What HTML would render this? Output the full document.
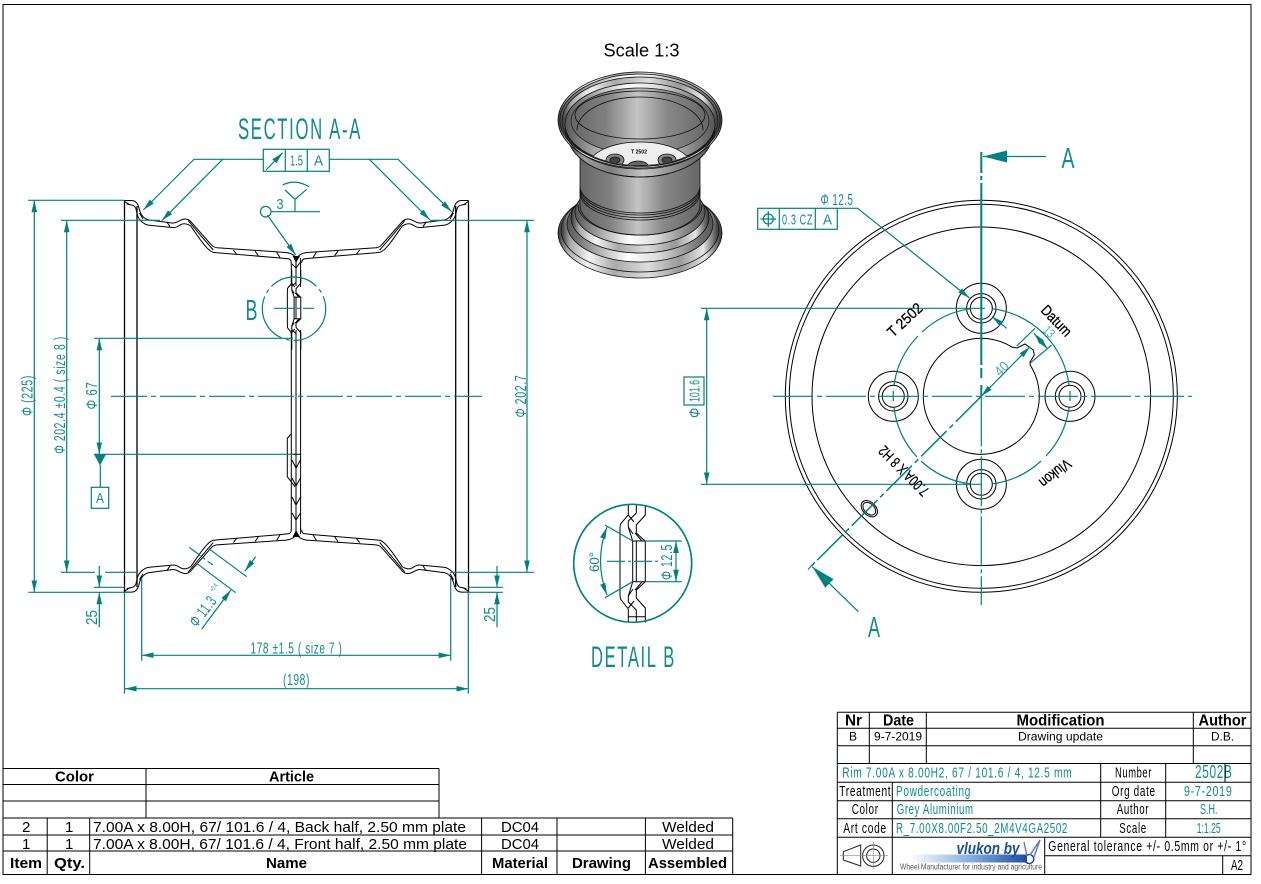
<!DOCTYPE html>
<html><head><meta charset="utf-8"><title>Rim drawing</title>
<style>
html,body{margin:0;padding:0;background:#fff}
svg{display:block}
text{font-family:"Liberation Sans",sans-serif}
.t{fill:#0f8a8f}
.k{fill:#000}
.s{letter-spacing:1px}
.h{letter-spacing:3px}
.l{stroke:#008080;stroke-width:1.2;fill:none}
.b{stroke:#000;stroke-width:1;fill:none}
.f{stroke:#000;stroke-width:1.3;fill:none}
i{font-style:italic}
</style></head><body>
<svg width="1261" height="884" viewBox="0 0 1261 884" xmlns="http://www.w3.org/2000/svg">
<defs>
<marker id="a" markerWidth="12" markerHeight="6" refX="12" refY="3" orient="auto-start-reverse" markerUnits="userSpaceOnUse"><path d="M0 .2L12 3L0 5.800z" fill="#008080"/></marker>
<marker id="A" markerWidth="24" markerHeight="12" refX="24" refY="6" orient="auto-start-reverse" markerUnits="userSpaceOnUse"><path d="M0 0L24 6L0 12z" fill="#008080"/></marker>
<linearGradient id="g1"><stop offset="0" stop-color="#333"/><stop offset=".06" stop-color="#aaa"/><stop offset=".18" stop-color="#f4f4f4"/><stop offset=".34" stop-color="#aaa"/><stop offset=".55" stop-color="#ddd"/><stop offset=".75" stop-color="#999"/><stop offset=".9" stop-color="#e6e6e6"/><stop offset="1" stop-color="#333"/></linearGradient>
<linearGradient id="g2"><stop offset="0" stop-color="#555"/><stop offset=".12" stop-color="#9a9a9a"/><stop offset=".3" stop-color="#808080"/><stop offset=".52" stop-color="#c5c5c5"/><stop offset=".75" stop-color="#888"/><stop offset="1" stop-color="#555"/></linearGradient>
<linearGradient id="g3"><stop offset="0" stop-color="#555"/><stop offset=".2" stop-color="#aaa"/><stop offset=".42" stop-color="#fff"/><stop offset=".62" stop-color="#ddd"/><stop offset=".85" stop-color="#888"/><stop offset="1" stop-color="#555"/></linearGradient>
<linearGradient id="g4"><stop offset="0" stop-color="#666"/><stop offset=".25" stop-color="#808080"/><stop offset=".48" stop-color="#c4c4c4"/><stop offset=".7" stop-color="#888"/><stop offset="1" stop-color="#666"/></linearGradient>
<linearGradient id="bar"><stop offset="0" stop-color="#fff"/><stop offset=".5" stop-color="#8fb0dd"/><stop offset="1" stop-color="#1a4f9e"/></linearGradient>
<clipPath id="inner"><ellipse cx="640" cy="124" rx="75" ry="41"/></clipPath>
<g id="q">
<path class="b" d="M124.500 200.500H131.500C136 200.500 138 204 139 208C140 213 143 219 149 220L172 223C177 224 180 219 185 219C188 219 190 220 192 223L211 244.500C213 247 215 247.500 217 247.700L286 252.500C290 253 294 254 296 258"/>
<path class="b" d="M126.700 204L132.700 205.300C135 206 136 208 136.500 211C137 215 138 218 141 221C143 223 146 225 149.300 225.300L172 227.500C177 228 179 225.500 181 224.500C184 223 188 224 190.700 226L200 239.300C205 246 209 251 213 252.200L217 252.700L280 258L288 258.800C290 259 291.300 260 291.300 263"/>
<path class="b" d="M188.300 220.700L201.700 236.700L213.300 250"/>
<path class="b" d="M125 201.700L130 205M166.700 221.700L170 226.700M233.300 250L236.700 254.300M255 251L258.300 255.700M276.700 252.300L280 257.700M139.500 213L143 219"/>
</g>
<g id="joggle">
<path class="b" vector-effect="non-scaling-stroke" d="M628.300 490V515L620.500 524C620 526 620 528 620 531V592C620 595 620 597 620.500 599L628.300 609V640"/>
<path class="b" vector-effect="non-scaling-stroke" d="M636.300 490V513L628.300 521V527L632.700 541M632.700 582L628.300 596V602L636.300 610V640"/>
<path class="b" vector-effect="non-scaling-stroke" d="M645.300 490V515L636.300 525V533L645.300 541.300M645.300 581.700L636.300 590V598L645.300 608V640"/>
<path class="b" vector-effect="non-scaling-stroke" d="M632.700 541H645.300V581.700H632.700ZM636.300 541V581.700"/>
<path class="b" vector-effect="non-scaling-stroke" d="M628.300 515L634 522M628.300 527L633 534M635 533L642 541M635 590L642 582M628.300 596L633 589M628.300 608L634 601"/>
</g>
</defs>
<rect width="1261" height="884" fill="#fff"/>
<rect x="3" y="4.500" width="1248" height="870" fill="none" stroke="#000" stroke-width="1"/>

<!-- section -->
<use href="#q"/>
<use href="#q" transform="translate(593 0) scale(-1 1)"/>
<use href="#q" transform="translate(0 792.600) scale(1 -1)"/>
<use href="#q" transform="translate(593 792.600) scale(-1 -1)"/>
<path class="f" d="M124.500 200.500V592.300M137 206V587M455.700 206V587M468.500 200.500V592.300"/>
<path class="b" stroke-width="1.2" d="M291.300 263V286M291.300 330V530M296 258V286M296 330V534M300.600 258V287M300.600 330V534"/>
<path d="M292.700 256H300L296 263z" fill="#000"/><path d="M292.700 537H300L296 530z" fill="#000"/>
<use href="#joggle" transform="translate(296 308) scale(.53) translate(-636.300 -561.500)"/>
<path class="b" d="M291 434L287.300 438.300V476.700L295 486.700M291.300 454.300H300.500M292 460L296 468L300.500 460M292 478L296 486L300.500 478M292 497L296 505L300.500 497M292 513L296 520L300.500 513M292 264L296 268L300.500 262"/>

<!-- top FCF + leaders -->
<rect class="l" x="263.300" y="149.300" width="66" height="22"/>
<path class="l" d="M285.300 149.300V171.300M307.300 149.300V171.300"/>
<path class="l" d="M266 170L282.700 152.700" marker-end="url(#a)"/>
<text class="t" x="290" y="165.500" font-size="15" textLength="13" lengthAdjust="spacingAndGlyphs">1.5</text>
<text class="t" x="314" y="165.500" font-size="15" textLength="9" lengthAdjust="spacingAndGlyphs">A</text>
<path class="l" d="M263.300 159.300H194L143.300 210" marker-end="url(#a)"/>
<path class="l" d="M222.700 159.300L161.700 220.700" marker-end="url(#a)"/>
<path class="l" d="M329.300 159.300H398L451.700 211.700" marker-end="url(#a)"/>
<path class="l" d="M369.300 159.300L430 220" marker-end="url(#a)"/>
<text class="t h" x="238" y="139" font-size="30" textLength="124" lengthAdjust="spacingAndGlyphs">SECTION A-A</text>
<!-- weld -->
<circle class="l" cx="265.700" cy="211.700" r="5.300"/>
<path class="l" d="M271 211.700H320M295 211.700V199.300L285 190M295 199.300L306.700 189.300M282.700 185Q295 178.500 309 186.700"/>
<path class="l" d="M267.300 215L295.700 255" marker-end="url(#a)"/>
<text class="t" x="276.500" y="209" font-size="15" textLength="7" lengthAdjust="spacingAndGlyphs">3</text>
<!-- B circle -->
<circle class="l" cx="294" cy="308.700" r="31.700" stroke-dasharray="50 4 4 4" stroke-width="1.300"/>
<path class="l" d="M274 308.300H314" stroke-dasharray="20 3 3 3"/>
<text class="t" x="245.500" y="320" font-size="29" textLength="12" lengthAdjust="spacingAndGlyphs">B</text>
<!-- left dims -->
<path class="l" d="M28 200.300H124.500M28.300 592.300H124.500M61 220.300H160M61 572.300H95M105 572.300H137M94 338.300H293M94 587.300H124.500M94 454.300H293"/>
<path class="l" d="M34.300 200.300V592.300" marker-start="url(#a)" marker-end="url(#a)"/>
<path class="l" d="M66.700 220.300V572.300" marker-start="url(#a)" marker-end="url(#a)"/>
<path class="l" d="M99.300 338.300V454.300" marker-start="url(#a)" marker-end="url(#a)"/>
<path d="M94 454.300H106L100 465.500z" fill="#008080"/>
<path class="l" d="M100.300 465V487.300"/>
<rect class="l" x="91.300" y="487.300" width="17.400" height="21"/>
<text class="t" x="96" y="503" font-size="15" textLength="8" lengthAdjust="spacingAndGlyphs">A</text>
<path class="l" d="M99.300 566V587.300" marker-end="url(#a)"/>
<path class="l" d="M99.300 627.300V592.300" marker-end="url(#a)"/>
<text class="t s" transform="translate(32.500 416) rotate(-90)" font-size="16" textLength="41" lengthAdjust="spacingAndGlyphs"><tspan font-style="italic">Φ</tspan> (225)</text>
<text class="t s" transform="translate(65 454) rotate(-90)" font-size="16" textLength="118" lengthAdjust="spacingAndGlyphs"><tspan font-style="italic">Φ</tspan> 202.4 ±0.4 ( size 8 )</text>
<text class="t s" transform="translate(97 409.500) rotate(-90)" font-size="16" textLength="28" lengthAdjust="spacingAndGlyphs"><tspan font-style="italic">Φ</tspan> 67</text>
<text class="t" transform="translate(97 625) rotate(-90)" font-size="16" textLength="15" lengthAdjust="spacingAndGlyphs">25</text>
<!-- right dims -->
<path class="l" d="M430 220.300H534M450 572.300H534M468.500 587.300H503M468.500 592.300H503"/>
<path class="l" d="M527 220.300V572.300" marker-start="url(#a)" marker-end="url(#a)"/>
<path class="l" d="M497 566V587.300" marker-end="url(#a)"/>
<path class="l" d="M497 627.300V592.300" marker-end="url(#a)"/>
<text class="t s" transform="translate(526 417.500) rotate(-90)" font-size="16" textLength="43" lengthAdjust="spacingAndGlyphs"><tspan font-style="italic">Φ</tspan> 202.7</text>
<text class="t" transform="translate(495 622) rotate(-90)" font-size="16" textLength="15" lengthAdjust="spacingAndGlyphs">25</text>
<!-- centerline -->
<path class="l" d="M111 396.300H482" stroke-dasharray="36 4 5 4"/>
<!-- bottom dims -->
<path class="l" d="M141.700 578V660.700M450.700 578V660.700M124.500 592V693.700M468.300 592V693.700"/>
<path class="l" d="M141.700 655.300H450.700" marker-start="url(#a)" marker-end="url(#a)"/>
<path class="l" d="M124.500 688.700H468.300" marker-start="url(#a)" marker-end="url(#a)"/>
<text class="t s" x="250.500" y="653.300" font-size="16" textLength="92" lengthAdjust="spacingAndGlyphs">178 ±1.5 ( size 7 )</text>
<text class="t s" x="283" y="685" font-size="16" textLength="27" lengthAdjust="spacingAndGlyphs">(198)</text>
<!-- dia 11.3 -->
<path class="l" d="M208.300 548.300L246.700 576.700M196.700 563.300L235.700 592.700"/>
<path class="l" d="M189.300 547.300L212.700 565" stroke-dasharray="14 3 3 3"/>
<path class="l" d="M255.700 556.700L244.900 571.200" marker-end="url(#a)"/>
<path class="l" d="M201.700 629L230.900 590" marker-end="url(#a)"/>
<text class="t s" transform="translate(197 628) rotate(-53)" font-size="16" textLength="34" lengthAdjust="spacingAndGlyphs"><tspan font-style="italic">Φ</tspan> 11.3</text>
<text class="t" transform="translate(213 592) rotate(-53)" font-size="7" textLength="8" lengthAdjust="spacingAndGlyphs">+0.4</text>

<!-- 3D rim -->
<text class="k" x="603.500" y="56.500" font-size="18" textLength="76" lengthAdjust="spacingAndGlyphs">Scale 1:3</text>
<g stroke="#111" stroke-width=".8">
<ellipse cx="640" cy="233" rx="82" ry="45" fill="url(#g1)"/>
<ellipse cx="640" cy="230" rx="79" ry="42" fill="url(#g1)"/>
<ellipse cx="640" cy="224" rx="73" ry="38" fill="url(#g3)"/>
<ellipse cx="640" cy="218" rx="69" ry="35" fill="url(#g1)"/>
<ellipse cx="640" cy="212" rx="65" ry="33" fill="url(#g3)"/>
<path d="M580 130H700V205A60 30 0 0 1 580 205Z" fill="url(#g4)"/>
<path d="M580 186A60 27 0 0 0 700 186M580 188A60 27 0 0 0 700 188M580 190.500A60 27 0 0 0 700 190.500M580 193A60 27 0 0 0 700 193M578 205A62 30 0 0 0 702 205" fill="none"/>
<ellipse cx="640" cy="135" rx="72" ry="42" fill="url(#g2)"/>
<path d="M568 135A72 42 0 0 0 712 135" fill="none"/>
<ellipse cx="640" cy="120" rx="82" ry="48" fill="url(#g1)"/>
<ellipse cx="640" cy="120" rx="80" ry="46" fill="url(#g3)"/>
<ellipse cx="640" cy="121" rx="78" ry="44" fill="url(#g1)"/>
<ellipse cx="640" cy="124" rx="75" ry="41" fill="url(#g3)"/>
<g clip-path="url(#inner)">
<ellipse cx="640" cy="121" rx="69" ry="33" fill="url(#g4)" stroke="#222"/>
<ellipse cx="640" cy="115" rx="65" ry="24" fill="none"/>
<path d="M577 130A63 33 0 0 1 703 130" fill="none"/>
<ellipse cx="640" cy="167" rx="52" ry="25" fill="#eee"/>
<ellipse cx="615" cy="160" rx="9" ry="6" fill="#888"/><ellipse cx="615" cy="160" rx="5" ry="3" fill="#444"/>
<ellipse cx="667" cy="160" rx="9" ry="6" fill="#888"/><ellipse cx="667" cy="160" rx="5" ry="3" fill="#444"/>
<ellipse cx="638" cy="166" rx="10" ry="5" fill="#666"/>
</g>
<path d="M565 128A75 41 0 0 0 715 128M566 132A75 41 0 0 0 714 132" fill="none"/>
</g>
<text x="631" y="153.500" font-size="5" font-weight="bold" fill="#000" textLength="16" lengthAdjust="spacingAndGlyphs">T 2502</text>

<!-- detail B -->
<circle cx="632.700" cy="563.300" r="59" fill="none" stroke="#008080" stroke-width="1.500"/>
<use href="#joggle"/>
<path fill="#fff" d="M620 622.500H650V640H620ZM620 480H650V505H620Z"/>
<circle cx="632.700" cy="563.300" r="59" fill="none" stroke="#008080" stroke-width="1.500"/>
<path class="b" d="M628.300 616.700H645.300"/>
<path class="l" d="M607 561.300H660" stroke-dasharray="18 3 3 3" stroke-width="1.300"/>
<path class="l" d="M645.300 541H681.700M645.300 581.700H681.700"/>
<path class="l" d="M676 541V581.700" marker-start="url(#a)" marker-end="url(#a)"/>
<path class="l" d="M632.700 541L605 525M632.700 581.700L605 597.700"/>
<path class="l" d="M607 527Q594 561 607 595" marker-start="url(#a)" marker-end="url(#a)"/>
<text class="t s" transform="translate(672 580) rotate(-90)" font-size="16" textLength="36" lengthAdjust="spacingAndGlyphs"><tspan font-style="italic">Φ</tspan> 12.5</text>
<text class="t" transform="translate(599 572) rotate(-90)" font-size="14" textLength="20" lengthAdjust="spacingAndGlyphs">60°</text>
<text class="t h" x="591" y="667" font-size="30" textLength="85" lengthAdjust="spacingAndGlyphs">DETAIL B</text>

<!-- front view -->
<g fill="none" stroke="#000" stroke-width="1">
<circle cx="981.300" cy="396.300" r="196"/>
<circle cx="981.300" cy="396.300" r="192"/>
<circle cx="981.300" cy="396.300" r="169.300"/>
<path d="M1012.300 347.300A58 58 0 1 0 1030.300 365.300L1030 362L1034.300 355L1033.300 350L1025 344L1017 348Z"/>
<circle cx="981.300" cy="308.300" r="25"/><circle cx="981.300" cy="308.300" r="14.700"/><circle cx="981.300" cy="308.300" r="11"/>
<circle cx="893.300" cy="396.300" r="25"/><circle cx="893.300" cy="396.300" r="14.700"/><circle cx="893.300" cy="396.300" r="11"/>
<circle cx="1070" cy="396.300" r="25"/><circle cx="1070" cy="396.300" r="14.700"/><circle cx="1070" cy="396.300" r="11"/>
<circle cx="981.300" cy="484.300" r="25"/><circle cx="981.300" cy="484.300" r="14.700"/><circle cx="981.300" cy="484.300" r="11"/>
<ellipse cx="869.300" cy="508.700" rx="9.500" ry="6.500" transform="rotate(45 869.300 508.700)"/>
<ellipse cx="869.300" cy="508.700" rx="7.500" ry="5" transform="rotate(45 869.300 508.700)"/>
</g>
<path class="l" d="M992.500 308.800A88 88 0 0 1 1069 385"/>
<path class="l" d="M1069 407.500A88 88 0 0 1 1046 456M1041 461A88 88 0 0 1 992.500 483.800"/>
<path class="l" d="M970 483.800A88 88 0 0 1 921 461M917 457A88 88 0 0 1 894 407.500"/>
<path class="l" d="M894 385A88 88 0 0 1 918 336M922 332A88 88 0 0 1 970 308.800"/>
<path class="l" d="M893.300 391V401M1070 391V401"/>
<path class="l" d="M773 396.300H1192" stroke-dasharray="40 4 5 4"/>
<path class="l" d="M981.300 396.300V605" stroke-dasharray="50 3 4 3"/>
<path d="M981.300 152V173M981.300 176V180M981.300 183V365M981.300 368V378M981.300 385V396" stroke="#008080" stroke-width="2" fill="none"/>
<path class="l" d="M1046 156.500H983" stroke-width="1.500" marker-end="url(#A)"/>
<path d="M981.300 396.300L811.700 565.700" stroke="#008080" stroke-width="1.500" fill="none" stroke-dasharray="36 4 5 4"/>
<path class="l" d="M808 569.500L815 562"/>
<path class="l" d="M858.300 611.700L812.300 566.700" stroke-width="1.500" marker-end="url(#A)"/>
<text class="t" x="1061.500" y="168" font-size="29" textLength="13" lengthAdjust="spacingAndGlyphs">A</text>
<text class="t" x="868" y="637" font-size="29" textLength="12" lengthAdjust="spacingAndGlyphs">A</text>
<!-- 101.6 -->
<path class="l" d="M701 308.300H985M701 484.300H981"/>
<path class="l" d="M706.700 308.300V484.300" marker-start="url(#a)" marker-end="url(#a)"/>
<rect fill="#fff" stroke="#008080" stroke-width="1.200" x="684" y="377" width="20" height="28"/>
<text class="t" transform="translate(699.500 402) rotate(-90)" font-size="15" textLength="22" lengthAdjust="spacingAndGlyphs">101.6</text>
<text class="t" transform="translate(700 418) rotate(-90)" font-size="16" textLength="10" lengthAdjust="spacingAndGlyphs" font-style="italic">Φ</text>
<!-- FCF 12.5 -->
<rect class="l" x="757.700" y="208.300" width="79.600" height="21"/>
<path class="l" d="M779.300 208.300V229.300M815.300 208.300V229.300"/>
<circle class="l" cx="768.300" cy="219" r="5"/><path class="l" d="M760.500 219H776M768.300 211V227"/>
<text class="t s" x="782" y="224.500" font-size="15" textLength="31" lengthAdjust="spacingAndGlyphs">0.3 CZ</text>
<text class="t" x="823" y="224.500" font-size="15" textLength="9" lengthAdjust="spacingAndGlyphs">A</text>
<path class="l" d="M837.300 208.300H857.700L969.500 298" marker-end="url(#a)"/>
<path class="l" d="M1006.700 328.300L992 316.500" marker-end="url(#a)"/>
<text class="t s" x="820.500" y="205" font-size="16" textLength="33" lengthAdjust="spacingAndGlyphs"><tspan font-style="italic">Φ</tspan> 12.5</text>
<!-- stamps -->
<text class="k" transform="translate(893 338) rotate(-43)" font-size="15" textLength="42" lengthAdjust="spacingAndGlyphs" stroke="#000" stroke-width=".3">T 2502</text>
<text class="k" transform="translate(1040 311) rotate(46)" font-size="15" textLength="37" lengthAdjust="spacingAndGlyphs" stroke="#000" stroke-width=".3">Datum</text>
<text class="k" transform="translate(1066 458) rotate(141)" font-size="15" textLength="36" lengthAdjust="spacingAndGlyphs" stroke="#000" stroke-width=".3">Vlukon</text>
<text class="k" transform="translate(930 490) rotate(225)" font-size="15" textLength="64" lengthAdjust="spacingAndGlyphs" stroke="#000" stroke-width=".3">7.00A X 8 H2</text>
<!-- 40 and 13 -->
<path class="l" d="M981.300 396.300L1030 346.700" marker-start="url(#a)" marker-end="url(#a)"/>
<text class="t" transform="translate(1000 377) rotate(-45)" font-size="14" textLength="14" lengthAdjust="spacingAndGlyphs" style="opacity:.75">40</text>
<path class="l" d="M1016.700 346L1035 328.300M1030.700 362.700L1051.700 345"/>
<path class="l" d="M1034 333.300L1047.700 349" marker-start="url(#a)" marker-end="url(#a)"/>
<text class="t" transform="translate(1042 331) rotate(45)" font-size="13" textLength="11" lengthAdjust="spacingAndGlyphs" style="opacity:.75">13</text>

<!-- BOM -->
<g stroke="#000" stroke-width="1" fill="none">
<path d="M3 768.500H439M3 784.500H439M3 801H439M3 818H732.700M3 835H732.700M3 851H732.700M3 874.500H732.700"/>
<path d="M146 768.500V818M439 768.500V818M47.200 818V874.500M89.700 818V874.500M481.600 818V874.500M557 818V874.500M645.400 818V874.500M732.700 818V874.500"/>
</g>
<g class="k">
<text x="55" y="781.500" font-size="15" font-weight="bold" textLength="39" lengthAdjust="spacingAndGlyphs">Color</text>
<text x="269" y="781.500" font-size="15" font-weight="bold" textLength="45" lengthAdjust="spacingAndGlyphs">Article</text>
<text x="22" y="832" font-size="15">2</text><text x="65" y="832" font-size="15">1</text>
<text x="93" y="832" font-size="15" textLength="373" lengthAdjust="spacingAndGlyphs">7.00A x 8.00H,  67/ 101.6 / 4, Back half, 2.50 mm plate</text>
<text x="501" y="832" font-size="15" textLength="38" lengthAdjust="spacingAndGlyphs">DC04</text>
<text x="662" y="832" font-size="15" textLength="52" lengthAdjust="spacingAndGlyphs">Welded</text>
<text x="22" y="849" font-size="15">1</text><text x="65" y="849" font-size="15">1</text>
<text x="93" y="849" font-size="15" textLength="374" lengthAdjust="spacingAndGlyphs">7.00A x 8.00H,  67/ 101.6 / 4, Front half, 2.50 mm plate</text>
<text x="501" y="849" font-size="15" textLength="38" lengthAdjust="spacingAndGlyphs">DC04</text>
<text x="662" y="849" font-size="15" textLength="52" lengthAdjust="spacingAndGlyphs">Welded</text>
<g font-size="15" font-weight="bold">
<text x="10" y="868" textLength="32" lengthAdjust="spacingAndGlyphs">Item</text>
<text x="54" y="868" textLength="31" lengthAdjust="spacingAndGlyphs">Qty.</text>
<text x="266" y="868" textLength="41" lengthAdjust="spacingAndGlyphs">Name</text>
<text x="492" y="868" textLength="56" lengthAdjust="spacingAndGlyphs">Material</text>
<text x="572" y="868" textLength="59" lengthAdjust="spacingAndGlyphs">Drawing</text>
<text x="648" y="868" textLength="79" lengthAdjust="spacingAndGlyphs">Assembled</text>
</g>
</g>

<!-- Title block -->
<g stroke="#000" stroke-width="1" fill="none">
<path d="M837.300 712.300H1251M837.300 728.300H1251M837.300 745.700H1251M837.300 763.500H1251M837.300 782.300H1251M837.300 800.700H1251M837.300 818.700H1251M837.300 837.300H1251M1044.700 855.700H1251"/>
<path d="M837.300 712.300V874.500M869.300 712.300V763.500M926.300 712.300V763.500M1193.300 712.300V763.500M892.300 782.300V874.500M1100.700 763.500V837.300M1165.700 763.500V837.300M1044.700 837.300V874.500M1222.700 855.700V874.500"/>
</g>
<g class="k">
<g font-weight="bold" font-size="16">
<text x="845" y="725.700" textLength="17" lengthAdjust="spacingAndGlyphs">Nr</text>
<text x="883" y="725.700" textLength="31" lengthAdjust="spacingAndGlyphs">Date</text>
<text x="1016.500" y="725.700" textLength="88" lengthAdjust="spacingAndGlyphs">Modification</text>
<text x="1198.500" y="725.700" textLength="48" lengthAdjust="spacingAndGlyphs">Author</text>
</g>
<g font-size="12">
<text x="849" y="740.700">B</text>
<text x="874" y="740.700" textLength="48" lengthAdjust="spacingAndGlyphs">9-7-2019</text>
<text x="1018" y="740.700" textLength="85" lengthAdjust="spacingAndGlyphs">Drawing update</text>
<text x="1211" y="740.700" textLength="23" lengthAdjust="spacingAndGlyphs">D.B.</text>
</g>
</g>
<g font-size="15">
<text class="t s" x="842.300" y="777.500" textLength="230" lengthAdjust="spacingAndGlyphs">Rim 7.00A x 8.00H2,  67 / 101.6 / 4,  12.5 mm</text>
<text class="k s" x="839.300" y="796" textLength="52" lengthAdjust="spacingAndGlyphs">Treatment</text>
<text class="t s" x="896" y="796" textLength="75" lengthAdjust="spacingAndGlyphs">Powdercoating</text>
<text class="k s" x="851.700" y="814" textLength="27" lengthAdjust="spacingAndGlyphs">Color</text>
<text class="t s" x="896.700" y="814" textLength="77" lengthAdjust="spacingAndGlyphs">Grey Aluminium</text>
<text class="k s" x="843.300" y="833" textLength="43.500" lengthAdjust="spacingAndGlyphs">Art code</text>
<text class="t s" x="896" y="833" textLength="172" lengthAdjust="spacingAndGlyphs">R_7.00X8.00F2.50_2M4V4GA2502</text>
<text class="k s" x="1115" y="777.500" textLength="37" lengthAdjust="spacingAndGlyphs">Number</text>
<text class="t s" x="1195" y="778" font-size="18" textLength="37.500" lengthAdjust="spacingAndGlyphs">2502B</text>
<path d="M1225 764V782" stroke="#000" stroke-width="1"/>
<text class="k s" x="1111.700" y="796" textLength="44" lengthAdjust="spacingAndGlyphs">Org date</text>
<text class="t s" x="1184" y="796" textLength="48.500" lengthAdjust="spacingAndGlyphs">9-7-2019</text>
<text class="k s" x="1116.700" y="814" textLength="32.500" lengthAdjust="spacingAndGlyphs">Author</text>
<text class="t" x="1200" y="814" textLength="17.500" lengthAdjust="spacingAndGlyphs">S.H.</text>
<text class="k s" x="1119.300" y="833" textLength="27.500" lengthAdjust="spacingAndGlyphs">Scale</text>
<text class="t" x="1196.700" y="833" textLength="24" lengthAdjust="spacingAndGlyphs">1:1.25</text>
<text class="k s" x="1048.300" y="851" textLength="198.500" lengthAdjust="spacingAndGlyphs">General tolerance +/- 0.5mm or +/- 1°</text>
<text class="k" x="1231" y="870" textLength="12" lengthAdjust="spacingAndGlyphs">A2</text>
</g>
<!-- projection -->
<g fill="none" stroke="#222" stroke-width="1">
<path d="M843.300 851.700L860.700 845V866L843.300 860Z"/>
<circle cx="873.300" cy="855.700" r="10.700"/><circle cx="873.300" cy="855.700" r="6.700"/>
<path d="M840 855.700H888M873.300 842V869" stroke="#888" stroke-width=".6"/>
</g>
<!-- logo -->
<rect x="909" y="854.500" width="118" height="8" fill="url(#bar)"/>
<text x="956.500" y="854" font-size="17" font-style="italic" font-weight="bold" fill="#1a4f9e" textLength="63" lengthAdjust="spacingAndGlyphs">vlukon by</text>
<circle cx="1029.300" cy="859" r="4.500" fill="none" stroke="#1a4f9e" stroke-width="1.500"/>
<path d="M1027 856L1024 842M1030 855L1040 840L1034 857" stroke="#6a7fa8" stroke-width="1.500" fill="none"/>
<text x="900" y="869.500" font-size="8" fill="#555" textLength="142" lengthAdjust="spacingAndGlyphs">Wheel Manufacturer for industry and agriculture</text>
</svg>
</body></html>
